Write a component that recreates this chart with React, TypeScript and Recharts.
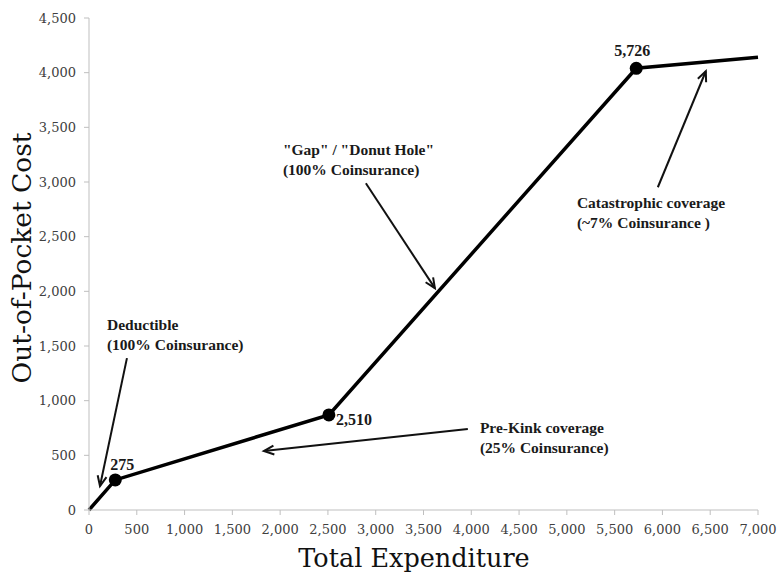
import React from "react";
import { LineChart, Line, XAxis, YAxis, ReferenceLine, ReferenceDot } from "recharts";

// kink points of the benefit schedule
const expenditure = [0, 275, 2510, 5726, 7000];
const outOfPocket = [0, 275, 870, 4040, 4140];
const kinkLabels = ["", "275", "2,510", "5,726", ""];

const xTicks = [0, 500, 1000, 1500, 2000, 2500, 3000, 3500, 4000, 4500, 5000, 5500, 6000, 6500, 7000];
const yTicks = [0, 500, 1000, 1500, 2000, 2500, 3000, 3500, 4000, 4500];

// annotation text blocks, anchored at data coords (left, first baseline)
const noteText = [
  { x: 188, y: 1645, lines: ["Deductible", "(100% Coinsurance)"] },
  { x: 4090, y: 704, lines: ["Pre-Kink coverage", "(25% Coinsurance)"] },
  { x: 2029, y: 3245, lines: ['"Gap" / "Donut Hole"', "(100% Coinsurance)"] },
  { x: 5105, y: 2760, lines: ["Catastrophic coverage", "(~7% Coinsurance )"] },
];

// arrows: from -> to, in data coords
const noteArrows = [
  { x1: 397, y1: 1389, x2: 115, y2: 219 },
  { x1: 3964, y1: 740, x2: 1830, y2: 539 },
  { x1: 2897, y1: 2989, x2: 3619, y2: 2029 },
  { x1: 5952, y1: 2952, x2: 6454, y2: 4013 },
];

const data = expenditure.map((x, i) => ({ x, y: outOfPocket[i], label: kinkLabels[i] }));

const labelOffset: Record<string, [number, number, string]> = {
  "275": [7, -10, "middle"],
  "2,510": [7, 10, "start"],
  "5,726": [-4, -12, "middle"],
};

const renderDot = (props: any) => {
  const { cx, cy, index, payload } = props;
  if (!payload.label) return <g key={`d-${index}`} />;
  const [dx, dy, anchor] = labelOffset[payload.label];
  return (
    <g key={`d-${index}`}>
      <circle cx={cx} cy={cy} r={6.5} fill="#000" />
      <text
        x={cx + dx}
        y={cy + dy}
        textAnchor={anchor as any}
        fontFamily="Liberation Serif"
        fontWeight="bold"
        fontSize={16}
        fill="#1a1a1a"
      >
        {payload.label}
      </text>
    </g>
  );
};

const ArrowShape = (p: any) => {
  const { x1, y1, x2, y2 } = p;
  const ang = Math.atan2(y2 - y1, x2 - x1);
  const len = 11;
  const spread = 0.42;
  const ax = x2 - len * Math.cos(ang - spread);
  const ay = y2 - len * Math.sin(ang - spread);
  const bx = x2 - len * Math.cos(ang + spread);
  const by = y2 - len * Math.sin(ang + spread);
  return (
    <g>
      <line x1={x1} y1={y1} x2={x2} y2={y2} stroke="#111" strokeWidth={2} />
      <path d={`M${ax},${ay} L${x2},${y2} L${bx},${by}`} fill="none" stroke="#111" strokeWidth={2} />
    </g>
  );
};

const NoteShape = (lines: string[]) => (p: any) => (
  <text x={p.cx} y={p.cy} fontFamily="Liberation Serif" fontWeight="bold" fontSize={15.5} fill="#1a1a1a">
    {lines.map((l, i) => (
      <tspan key={i} x={p.cx} dy={i === 0 ? 0 : 19.5}>
        {l}
      </tspan>
    ))}
  </text>
);

const fmt = (v: number) => v.toLocaleString("en-US");

const YTitle = () => (
  <text
    x={21}
    y={258}
    transform="rotate(-90 21 258)"
    textAnchor="middle"
    dominantBaseline="central"
    fontFamily="DejaVu Serif"
    fontSize={26.5}
    fill="#111"
  >
    Out-of-Pocket Cost
  </text>
);

const XTitle = () => (
  <text x={414} y={567} textAnchor="middle" fontFamily="DejaVu Serif" fontSize={25.5} fill="#111">
    Total Expenditure
  </text>
);

export default function App() {
  return (
    <div style={{ position: "absolute", left: 0, top: 0, background: "#fff" }}>
      <LineChart width={777} height={573} data={data} margin={{ top: 18, right: 19, left: 0, bottom: 0 }}>
        <XAxis
          dataKey="x"
          type="number"
          domain={[0, 7000]}
          ticks={xTicks}
          tickFormatter={fmt}
          height={63}
          stroke="#bfbfbf"
          tickSize={5}
          tickMargin={10}
          tick={{ fontFamily: "DejaVu Serif", fontSize: 13, fill: "#404040" }}
          label={<XTitle />}
        />
        <YAxis
          dataKey="y"
          type="number"
          domain={[0, 4500]}
          ticks={yTicks}
          tickFormatter={fmt}
          width={89}
          stroke="#bfbfbf"
          tickSize={5}
          tickMargin={8}
          tick={{ fontFamily: "DejaVu Serif", fontSize: 13, fill: "#404040" }}
          label={<YTitle />}
        />
        {noteArrows.map((a, i) => (
          <ReferenceLine
            key={`a-${i}`}
            segment={[
              { x: a.x1, y: a.y1 },
              { x: a.x2, y: a.y2 },
            ]}
            shape={ArrowShape}
          />
        ))}
        {noteText.map((n, i) => (
          <ReferenceDot key={`n-${i}`} x={n.x} y={n.y} r={0} shape={NoteShape(n.lines)} />
        ))}
        <Line
          type="linear"
          dataKey="y"
          stroke="#000"
          strokeWidth={3.5}
          dot={renderDot}
          activeDot={false}
          isAnimationActive={false}
        />
      </LineChart>
    </div>
  );
}
